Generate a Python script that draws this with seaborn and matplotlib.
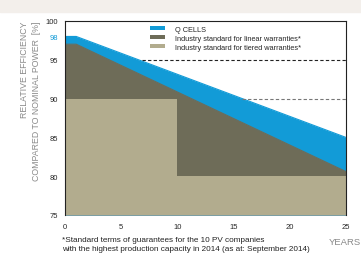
import seaborn as sns
import matplotlib.pyplot as plt
from matplotlib.patches import Rectangle

# warranty curves
years = [0, 1, 25]
qcells = [98, 98, 85]
linear = [97, 97, 80.6]
tiered_years = [0, 10, 10, 25]
tiered = [90, 90, 80, 80]
# dashed marks where Q CELLS crosses 95 and 90
dash_levels = [95, 90]
dash_start = [6.9, 15.8]

yticks = [75, 80, 85, 90, 95, 98, 100]
xticks = [0, 5, 10, 15, 20, 25]
labels = ['Q CELLS',
          'Industry standard for linear warranties*',
          'Industry standard for tiered warranties*']

blue = '#129bd7'
dark = '#6e6c58'
light = '#b2ac8e'

sns.set_style('white')
plt.rcParams['font.family'] = ['Liberation Sans', 'DejaVu Sans']

fig = plt.figure(figsize=(3.61, 2.55), dpi=100)
fig.patches.append(Rectangle((0, 0.95), 1, 0.05, transform=fig.transFigure,
                             color='#f3efeb', zorder=0))
ax = fig.add_axes([0.180, 0.153, 0.778, 0.761])

ax.fill_between(years, qcells, 75, color=blue, lw=0, label=labels[0])
ax.fill_between(years, linear, 75, color=dark, lw=0, label=labels[1])
ax.fill_between(tiered_years, tiered, 75, color=light, lw=0, label=labels[2])
sns.lineplot(x=years, y=qcells, ax=ax, color=blue, lw=0.8)
sns.lineplot(x=years, y=linear, ax=ax, color=dark, lw=0.8)

ax.hlines(dash_levels[0], dash_start[0], 25, colors='#222222', linestyles=(0, (3, 2)), lw=0.8)
ax.hlines(dash_levels[1], dash_start[1], 25, colors='#777777', linestyles=(0, (3, 2)), lw=0.8)

ax.set_xlim(0, 25)
ax.set_ylim(75, 100)
ax.set_xticks(xticks)
ax.set_yticks(yticks)
ax.tick_params(axis='x', direction='inout', length=4, width=0.6, labelsize=5.5, pad=4, color='#444444')
ax.tick_params(axis='y', length=0, labelsize=5.5, pad=5)
for t in ax.get_yticklabels():
    if t.get_text() == '98':
        t.set_color(blue)
for side in ['left', 'top', 'right']:
    ax.spines[side].set_color('#222222')
    ax.spines[side].set_linewidth(0.8)
ax.spines['bottom'].set_visible(False)

ax.set_ylabel('RELATIVE EFFICIENCY\nCOMPARED TO NOMINAL POWER  [%]',
              fontsize=6.3, color='#8a8a8a', ha='right', y=1.0,
              multialignment='right', labelpad=3, linespacing=1.45)

leg = ax.legend(loc='upper left', bbox_to_anchor=(0.28, 1.01), frameon=False,
                fontsize=5.3, handlelength=2.0, handleheight=0.45,
                labelspacing=0.3, handletextpad=1.4)

fig.text(0.91, 0.04, 'YEARS', fontsize=6.8, color='#888888')
fig.text(0.172, 0.016,
         '*Standard terms of guarantees for the 10 PV companies\n'
         'with the highest production capacity in 2014 (as at: September 2014)',
         fontsize=5.9, color='#222222', linespacing=1.3)

fig.savefig('out.png', dpi=100)
